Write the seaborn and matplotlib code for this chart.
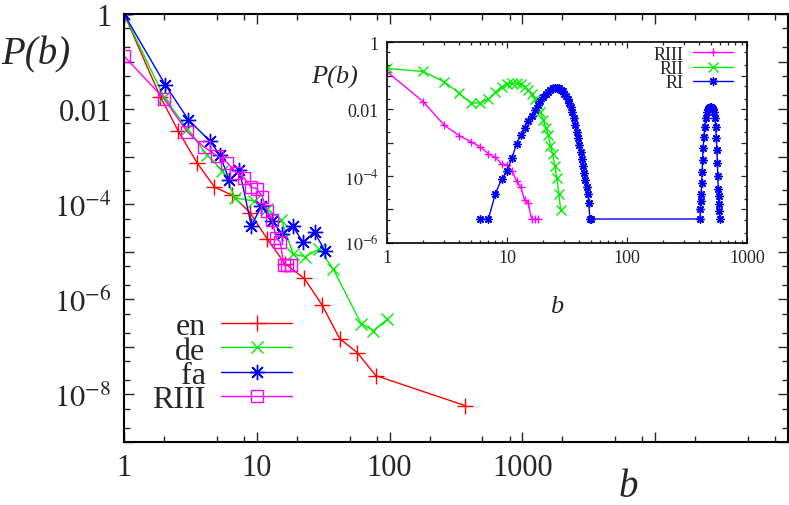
import math
import matplotlib
matplotlib.use('Agg')
import matplotlib.pyplot as plt
import matplotlib.ticker as mticker
import seaborn as sns

sns.set_style('ticks')
plt.rcParams['font.family'] = ['Liberation Serif', 'DejaVu Serif']
plt.rcParams['mathtext.fontset'] = 'stix'

# main plot data: P(b) per language (log-binned b)
b_en = [1, 1.88, 2.57, 3.55, 4.8, 6.5, 8.9, 11.9, 16.3, 22.8, 31, 42, 57, 78.5, 372]
p_en = [1, 1.8e-2, 3.4e-3, 7.4e-4, 2.3e-4, 1.55e-4, 6.6e-5, 1.9e-5, 5.6e-6,
        2.75e-6, 7.6e-7, 1.5e-7, 7.6e-8, 2.5e-8, 5.8e-9]

b_de = [1, 2, 3, 4.2, 5.5, 6.9, 9.5, 12, 15.3, 18.8, 23.2, 29.5, 37.5, 61, 75.5, 96]
p_de = [1, 1.8e-2, 3.8e-3, 1.1e-3, 5.1e-4, 1.35e-4, 1.17e-4, 7.9e-5, 4.7e-5,
        8.9e-6, 7.9e-6, 1.15e-5, 4.4e-6, 3.1e-7, 2.2e-7, 3.8e-7]

b_fa = [1, 2.05, 3.05, 4.45, 5.26, 6.2, 7.4, 9.1, 10.8, 13.1, 15.5, 18.6, 22.2, 27.2, 32.5]
p_fa = [1, 3.2e-2, 6.0e-3, 2.1e-3, 1.1e-3, 3.2e-4, 5.2e-4, 3.5e-5, 9.1e-5,
        4.4e-5, 2.4e-5, 3.5e-5, 1.6e-5, 2.6e-5, 1.05e-5]

# RIII (same series in main plot and inset)
b_r3 = [1, 2, 3, 4, 5, 6, 7, 8, 9, 10, 11, 12, 13, 14, 15, 16, 17, 18]
p_r3 = [0.13, 1.66e-2, 3.3e-3, 1.6e-3, 1.05e-3, 7.4e-4, 4.6e-4, 3.6e-4, 2.3e-4,
        2.1e-4, 1.45e-4, 7.1e-5, 4.7e-5, 1.95e-5, 1.6e-5, 5.2e-6, 5.2e-6, 5.2e-6]

# inset: RII
b_r2 = list(range(1, 29))
p_r2 = [0.162, 0.132, 0.0646, 0.0295, 0.0151, 0.0151, 0.02, 0.0316, 0.0468, 0.055,
        0.0603, 0.0589, 0.055, 0.0468, 0.038, 0.0282, 0.02, 0.0129, 7.9e-3, 4.7e-3,
        2.75e-3, 1.7e-3, 8.1e-4, 4.6e-4, 2.0e-4, 8.9e-5, 3.0e-5, 9.8e-6]

# inset: RI
b_r1 = (list(range(6, 51)) +
        [406, 409, 412, 415, 418, 422, 426, 431, 437, 444, 452, 461, 470, 480, 490,
         500, 510, 520, 530, 540, 548, 555, 561, 566, 571, 575, 579, 583, 588, 594])
p_r1 = [5.2e-6, 5.2e-6, 3.0e-5, 7.9e-5, 1.4e-4, 3.5e-4, 8.9e-4, 1.66e-3, 2.8e-3,
        4.4e-3, 6.3e-3, 9.3e-3, 1.32e-2, 1.78e-2, 2.3e-2, 2.8e-2, 3.3e-2, 3.7e-2,
        4.1e-2, 4.3e-2, 4.3e-2, 4.1e-2, 3.8e-2, 3.4e-2, 2.9e-2, 2.5e-2, 2.0e-2,
        1.55e-2, 1.15e-2, 8.0e-3, 5.3e-3, 3.4e-3, 2.1e-3, 1.35e-3, 8.5e-4, 5.3e-4,
        3.3e-4, 2.0e-4, 1.25e-4, 7.8e-5, 4.8e-5, 2.9e-5, 1.6e-5, 5.2e-6, 5.2e-6,
        5.2e-6, 1e-5, 1.8e-5, 3e-5, 6e-5, 1.3e-4, 3e-4, 7e-4, 1.5e-3, 3e-3, 5.5e-3,
        8e-3, 1e-2, 1.1e-2, 1.12e-2, 1.12e-2, 1.1e-2, 1e-2, 8e-3, 5.5e-3, 3e-3,
        1.4e-3, 6e-4, 2.5e-4, 1e-4, 4e-5, 2.5e-5, 1.5e-5, 9e-6, 5.2e-6]

RED, GREEN, BLUE, MAG = '#ff0000', '#00ee00', '#0000ff', '#ff00ff'
STAR = (8, 2, 0)  # gnuplot style asterisk (+ and x)

fig = plt.figure(figsize=(7.89, 5.06), dpi=100)
ax = fig.add_axes([0.1572, 0.1245, 0.8415, 0.8459])


def draw(a, x, y, col, mk, ms, lab, **kw):
    sns.lineplot(x=x, y=y, ax=a, color=col, marker=mk, markersize=ms,
                 markeredgecolor=col, markeredgewidth=1.0, linewidth=1.0,
                 label=lab, estimator=None, sort=False, **kw)


def ylab(v, pos):
    e = int(round(math.log10(v)))
    if e == 0:
        return '1'
    if e == -2:
        return '0.01'
    if e % 2 == 0:
        return r'$10^{%d}$' % e
    return ''


draw(ax, b_en, p_en, RED, '+', 11, 'en')
draw(ax, b_de, p_de, GREEN, 'x', 9, 'de')
draw(ax, b_fa, p_fa, BLUE, STAR, 11, 'fa')
draw(ax, b_r3, p_r3, MAG, 's', 9, 'RIII', markerfacecolor='none')

ax.set_xscale('log')
ax.set_yscale('log')
ax.set_xlim(1, 1e5)
ax.set_ylim(1e-9, 1)
ax.set_xlabel('')
ax.set_ylabel('')

ax.xaxis.set_major_locator(mticker.FixedLocator([1, 10, 100, 1000, 1e4, 1e5]))
ax.xaxis.set_major_formatter(mticker.FixedFormatter(['1', '10', '100', '1000', '', '']))
ax.xaxis.set_minor_locator(mticker.LogLocator(base=10, subs=(2.0, 5.0, 8.0), numticks=20))
ax.xaxis.set_minor_formatter(mticker.NullFormatter())
ax.yaxis.set_major_locator(mticker.LogLocator(base=10, numticks=20))
ax.yaxis.set_major_formatter(mticker.FuncFormatter(ylab))
ax.yaxis.set_minor_locator(mticker.LogLocator(base=10, subs=(2.0, 5.0), numticks=20))
ax.yaxis.set_minor_formatter(mticker.NullFormatter())

ax.tick_params(which='both', direction='in', top=True, right=True, labelsize=22)
ax.tick_params(which='major', length=7, width=1.0)
ax.tick_params(which='minor', length=4, width=1.0)
ax.tick_params(axis='y', pad=9)
ax.tick_params(axis='x', pad=8)
for s in ax.spines.values():
    s.set_linewidth(1.5)
    s.set_color('black')

ax.legend(loc='center', bbox_to_anchor=(0.2814, 0.2806), bbox_transform=fig.transFigure,
          frameon=False, markerfirst=False, fontsize=23, handlelength=2.2,
          handletextpad=0.5, labelspacing=-0.16, borderpad=0)

fig.text(36 / 789, 1 - 55 / 506, 'P(b)', fontsize=28, fontstyle='italic',
         ha='center', va='center')
fig.text(628 / 789, 1 - 488 / 506, 'b', fontsize=28, fontstyle='italic',
         ha='center', va='center')

# inset
ins = fig.add_axes([0.4905, 0.5178, 0.4563, 0.3972])
ins.set_facecolor('white')
draw(ins, b_r3, p_r3, MAG, '+', 6, 'RIII')
draw(ins, b_r2, p_r2, GREEN, 'x', 7, 'RII')
draw(ins, b_r1, p_r1, BLUE, STAR, 6, 'RI')

ins.set_xscale('log')
ins.set_yscale('log')
ins.set_xlim(1, 1000)
ins.set_ylim(1e-6, 1)
ins.set_xlabel('')
ins.set_ylabel('')
ins.xaxis.set_major_locator(mticker.FixedLocator([1, 10, 100, 1000]))
ins.xaxis.set_major_formatter(mticker.FixedFormatter(['1', '10', '100', '1000']))
ins.xaxis.set_minor_locator(mticker.LogLocator(base=10, subs=tuple(range(2, 10)), numticks=20))
ins.xaxis.set_minor_formatter(mticker.NullFormatter())
ins.yaxis.set_major_locator(mticker.LogLocator(base=10, numticks=20))
ins.yaxis.set_major_formatter(mticker.FuncFormatter(ylab))
ins.yaxis.set_minor_locator(mticker.LogLocator(base=10, subs=(2.0, 5.0), numticks=20))
ins.yaxis.set_minor_formatter(mticker.NullFormatter())
ins.tick_params(which='both', direction='in', top=True, right=True, labelsize=13)
ins.tick_params(which='major', length=4.5, width=0.9)
ins.tick_params(which='minor', length=2.5, width=0.9)
ins.tick_params(axis='y', pad=6)
ins.tick_params(axis='x', pad=4)
for s in ins.spines.values():
    s.set_linewidth(1.2)
    s.set_color('black')

ins.legend(loc='center', bbox_to_anchor=(0.879, 0.8626), bbox_transform=fig.transFigure,
           frameon=False, markerfirst=False, fontsize=13, handlelength=2.25,
           handletextpad=0.5, labelspacing=-0.15, borderpad=0)

fig.text(335 / 789, 1 - 77 / 506, 'P(b)', fontsize=19, fontstyle='italic',
         ha='center', va='center')
fig.text(557 / 789, 1 - 307 / 506, 'b', fontsize=19, fontstyle='italic',
         ha='center', va='center')

fig.savefig('out.png', dpi=100)
